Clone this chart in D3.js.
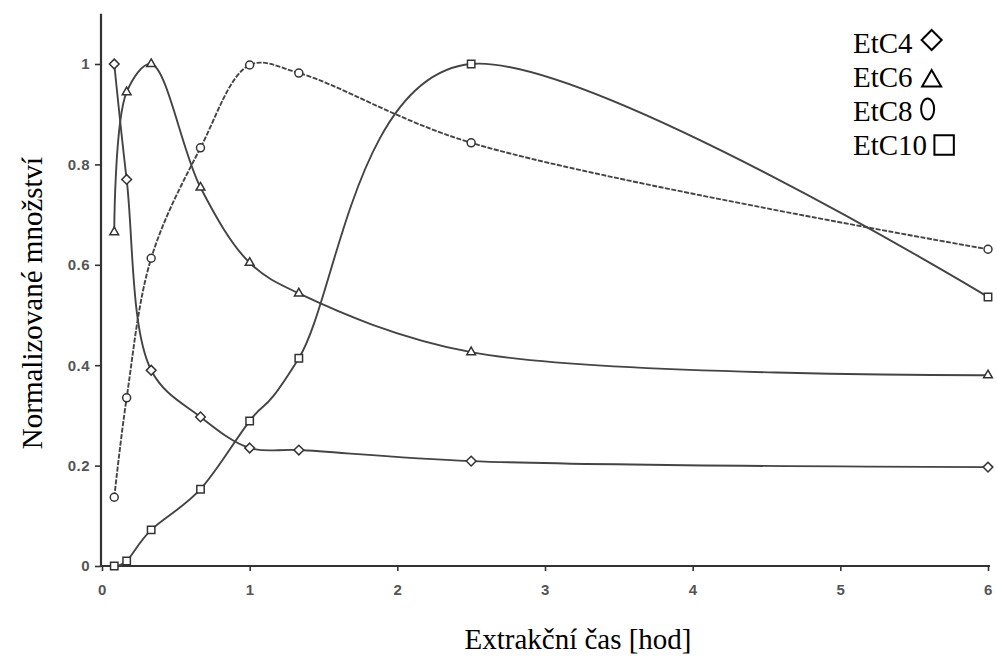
<!DOCTYPE html>
<html>
<head>
<meta charset="utf-8">
<script src="https://cdn.jsdelivr.net/npm/d3@7"></script>
<style>
  body { margin: 0; background: #fff; }
  svg { display: block; }
</style>
</head>
<body>
<div id="chart"></div>
<script>
// extraction times [hod]
const times = [0.083, 0.167, 0.333, 0.667, 1, 1.333, 2.5, 6];
// normalised amounts per ester
const etc4 = [1.0, 0.77, 0.39, 0.297, 0.235, 0.231, 0.209, 0.197];
const etc6 = [0.665, 0.944, 1.0, 0.754, 0.604, 0.543, 0.426, 0.380];
const etc8 = [0.137, 0.335, 0.613, 0.833, 0.998, 0.982, 0.843, 0.631];
const etc10 = [0.0, 0.01, 0.072, 0.153, 0.289, 0.414, 1.0, 0.536];
const seriesNames = ["EtC4", "EtC6", "EtC8", "EtC10"];
const xTicks = [0, 1, 2, 3, 4, 5, 6];
const yTicks = [0, 0.2, 0.4, 0.6, 0.8, 1];

const W = 997, H = 659;

let x = d3.scaleLinear().domain([0, 6]).range([102, 988]);
let y = d3.scaleLinear().domain([0, 1]).range([566, 64]);

let svg = d3.select("#chart")
  .append("svg")
  .attr("width", W)
  .attr("height", H);

const symbolType = {
  EtC4: d3.symbolDiamond2,
  EtC6: d3.symbolTriangle2,
  EtC8: d3.symbolCircle,
  EtC10: d3.symbolSquare2
};

let series = [etc4, etc6, etc8, etc10].map(function (vals, i) {
  return { name: seriesNames[i], values: vals.map(function (v, j) { return [times[j], v]; }) };
});

// axes
let xAxis = svg.append("g")
  .attr("transform", "translate(0," + y(0) + ")")
  .call(d3.axisBottom(x).tickValues(xTicks).tickFormat(d3.format("d")).tickSize(5).tickPadding(13));
xAxis.select(".domain").attr("d", "M" + (x(0) - 1) + ",0H" + (x(6) + 2));

let yAxis = svg.append("g")
  .attr("transform", "translate(" + (x(0) - 1) + ",0)")
  .call(d3.axisLeft(y).tickValues(yTicks).tickFormat(function (d) { return d === 0 || d === 1 ? d : d.toFixed(1); }).tickSize(6).tickPadding(5));
yAxis.select(".domain").attr("d", "M0," + (y(0) + 1) + "V" + y(1.1));

svg.selectAll(".domain").attr("stroke", "#333").attr("stroke-width", 2.2);
svg.selectAll(".tick line").attr("stroke", "#333").attr("stroke-width", 1.6);
svg.selectAll(".tick text")
  .attr("fill", "#555")
  .style("font-family", "'Liberation Sans', Arial, sans-serif")
  .style("font-weight", "bold")
  .style("font-size", "15px")
  .style("letter-spacing", "0.5px");

// curves (smoothed like the spreadsheet original)
let curveAlpha = { EtC4: 0.5, EtC6: 0.5, EtC8: 0.5, EtC10: 0 };
function lineFor(name) {
  return d3.line()
    .x(function (d) { return x(d[0]); })
    .y(function (d) { return y(d[1]); })
    .curve(d3.curveCatmullRom.alpha(curveAlpha[name]));
}

svg.selectAll(".curve")
  .data(series)
  .enter()
  .append("path")
  .attr("class", "curve")
  .attr("fill", "none")
  .attr("stroke", "#444")
  .attr("stroke-width", 1.9)
  .attr("stroke-dasharray", function (d) { return d.name === "EtC8" ? "5,1.5" : null; })
  .attr("d", function (d) { return lineFor(d.name)(d.values); });

// markers
let markerSize = { EtC4: 60, EtC6: 55, EtC8: 50, EtC10: 70 };
series.forEach(function (s) {
  svg.selectAll(".m-" + s.name)
    .data(s.values)
    .enter()
    .append("path")
    .attr("class", "m-" + s.name)
    .attr("transform", function (d) { return "translate(" + x(d[0]) + "," + y(d[1]) + ")"; })
    .attr("d", d3.symbol().type(symbolType[s.name]).size(markerSize[s.name]))
    .attr("fill", "#fff")
    .attr("stroke", "#333")
    .attr("stroke-width", 1.5);
});

// axis titles
svg.append("text")
  .attr("x", 578)
  .attr("y", 649)
  .style("text-anchor", "middle")
  .style("font-family", "'Liberation Serif', 'Times New Roman', serif")
  .style("font-size", "29px")
  .text("Extrakční čas [hod]");

svg.append("text")
  .attr("transform", "translate(42,303) rotate(-90)")
  .style("text-anchor", "middle")
  .style("font-family", "'Liberation Serif', 'Times New Roman', serif")
  .style("font-size", "29px")
  .text("Normalizované množství");

// legend
let legend = svg.append("g").attr("transform", "translate(853,53)");
let legendSize = { EtC4: 255, EtC6: 260, EtC8: 0, EtC10: 480 };
let legendDx = { EtC4: 19, EtC6: 19, EtC8: 15, EtC10: 17 };
let legendDy = { EtC4: -13, EtC6: -6, EtC8: -12, EtC10: -10 };
seriesNames.forEach(function (name, i) {
  let g = legend.append("g").attr("transform", "translate(0," + i * 34 + ")");
  let t = g.append("text")
    .attr("x", 0)
    .attr("y", 0)
    .style("font-family", "'Liberation Serif', 'Times New Roman', serif")
    .style("font-size", "29px")
    .text(name);
  let tw = t.node().getComputedTextLength();
  if (name === "EtC8") {
    g.append("ellipse")
      .attr("cx", tw + legendDx[name])
      .attr("cy", legendDy[name])
      .attr("rx", 6.5)
      .attr("ry", 10.5)
      .attr("fill", "none")
      .attr("stroke", "#000")
      .attr("stroke-width", 2);
  } else {
    g.append("path")
      .attr("transform", "translate(" + (tw + legendDx[name]) + "," + legendDy[name] + ")")
      .attr("d", d3.symbol().type(symbolType[name]).size(legendSize[name]))
      .attr("fill", "none")
      .attr("stroke", "#000")
      .attr("stroke-width", 2);
  }
});
</script>
</body>
</html>
